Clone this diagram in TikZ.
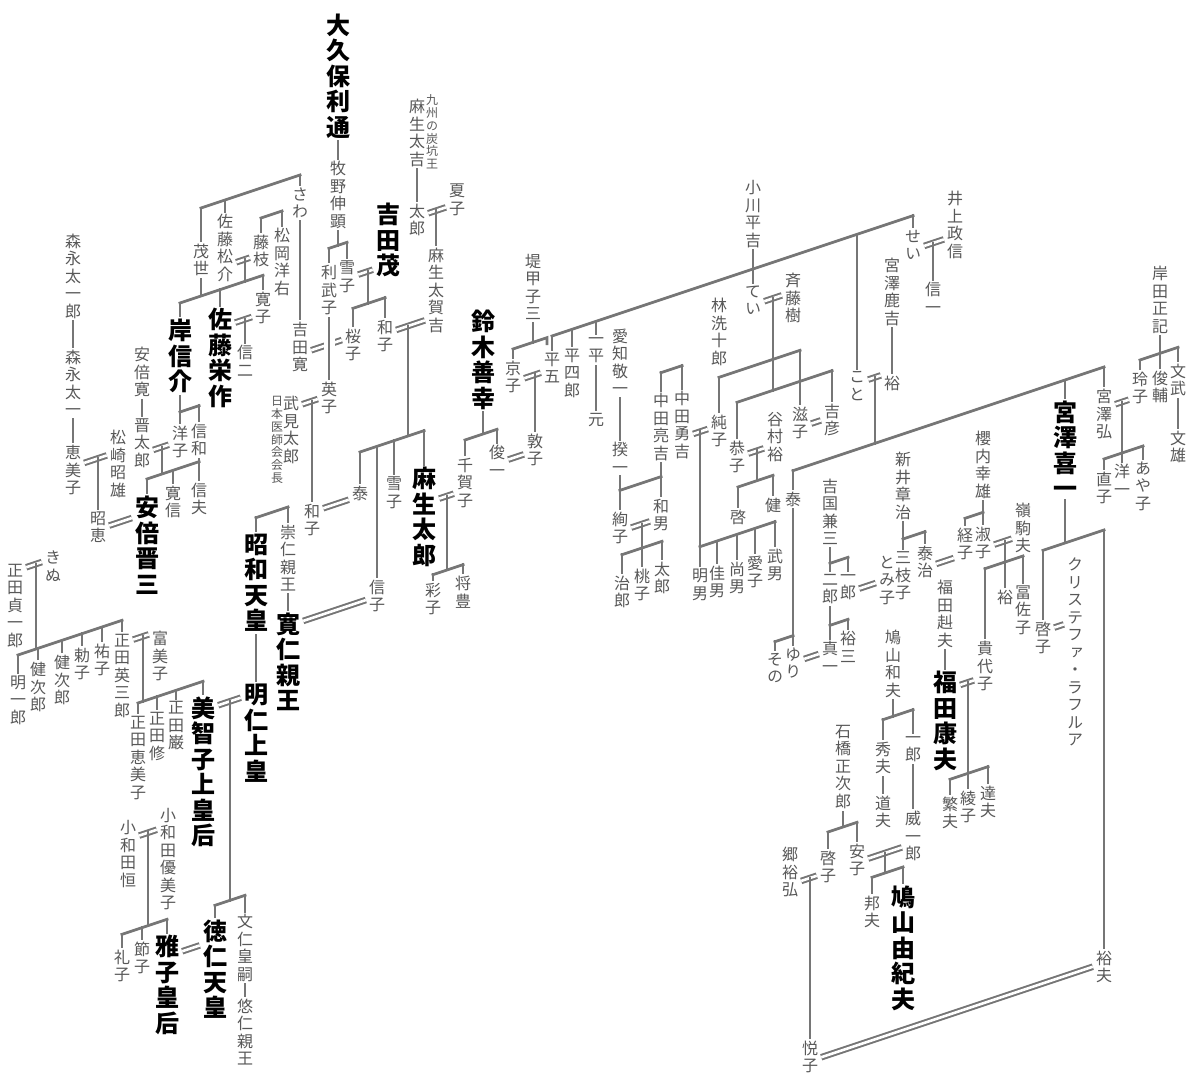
\documentclass[tikz,border=0pt]{standalone}
\usepackage{fontspec}
\setmainfont{Noto Sans CJK JP}[RawFeature=+vert]
\IfFontExistsTF{Noto Sans CJK JP Black}
  {\newfontfamily\heavy{Noto Sans CJK JP Black}[RawFeature=+vert]}
  {\IfFontExistsTF{Noto Sans CJK JP Bold}
    {\newfontfamily\heavy{Noto Sans CJK JP Bold}[RawFeature=+vert]}
    {\newfontfamily\heavy{Noto Sans CJK JP}[RawFeature=+vert,FakeBold=3]}}
\usetikzlibrary{calc}

\definecolor{ink}{RGB}{88,88,88}
\definecolor{wire}{RGB}{118,118,118}

% one character per line
\ExplSyntaxOn
\tl_new:N \l_tate_tl
\NewDocumentCommand \tate { m }
  {
    \tl_clear:N \l_tate_tl
    \tl_map_inline:nn {#1}
      {
        \tl_if_empty:NF \l_tate_tl { \tl_put_right:Nn \l_tate_tl { \\ } }
        \tl_put_right:Nn \l_tate_tl {##1}
      }
    \tl_use:N \l_tate_tl
  }
\ExplSyntaxOff

% slanted lines: image y = b - x/3
\newcommand\kup[2]{\draw[kin] let \p1=(#1) in (\p1) -- (\x1,{\x1/3-#2pt});}
\newcommand\kbar[3]{\draw[kin] let \p1=(#1), \p2=(#2) in (\x1,{\x1/3-#3pt}) -- (\x2,{\x2/3-#3pt});}
\newcommand\kwed[3]{\draw[wed] let \p1=(#1.east), \p2=(#2.west) in (\x1,{\x1/3-#3pt}) -- (\x2,{\x2/3-#3pt});}
\newcommand\kdrop[3]{\draw[kin] (#1,{#2-#1/3}) -- (#1,{#3-#1/3});}

\tikzset{
  nm/.style={text=ink, font=\fontsize{16}{17.5}\selectfont, align=center, inner xsep=3pt, inner ysep=3pt},
  big/.style={nm, text=black, font=\heavy\fontsize{24}{25.5}\selectfont},
  memo/.style={nm, font=\fontsize{12}{12.8}\selectfont, inner sep=1pt},
  kin/.style={draw=wire, line width=2.8pt, line cap=rect},
  wed/.style={draw=wire, line width=2pt, double=white, double distance=2.6pt}
}

\begin{document}
\begin{tikzpicture}[x=1pt,y=-1pt]
\fill[white] (0,0) rectangle (1200,1085);
\useasboundingbox (0,0) rectangle (1200,1085);

% Mori, Matsuzaki, Abe
\node[nm] (morinaga1) at (73,276) {\tate{森永太一郎}};
\node[nm] (morinaga2) at (73,383) {\tate{森永太一}};
\node[nm] (emiko1) at (73,470) {\tate{恵美子}};
\node[nm] (matsuzaki) at (118,464) {\tate{松崎昭雄}};
\node[nm] (akie) at (98,527) {\tate{昭恵}};
\node[nm] (abehiroshi) at (142,372) {\tate{安倍寛}};
\node[nm] (shintaro) at (142,443) {\tate{晋太郎}};
\node[nm] (yoko) at (180,442) {\tate{洋子}};
\node[nm] (nobukazu) at (199,440) {\tate{信和}};
\node[big] (shinzo) at (147,545) {\tate{安倍晋三}};
\node[nm] (hironobu) at (173,502) {\tate{寛信}};
\node[nm] (nobuo) at (199,499) {\tate{信夫}};

% Sato, Kishi
\node[nm] (shigeyo) at (201,260) {\tate{茂世}};
\node[nm] (matsusuke) at (225,248) {\tate{佐藤松介}};
\node[nm] (fujie) at (261,251) {\tate{藤枝}};
\node[nm] (matsuoka) at (282,262) {\tate{松岡洋右}};
\node[nm] (sawa) at (300,203) {\tate{さわ}};
\node[nm] (hiroko) at (263,308) {\tate{寛子}};
\node[big] (kishi) at (180,356) {\tate{岸信介}};
\node[big] (eisaku) at (220,358) {\tate{佐藤栄作}};
\node[nm] (shinji) at (245,361) {\tate{信二}};
\node[nm] (yoshidahiroshi) at (300,347) {\tate{吉田寛}};

% Okubo, Yoshida, Aso
\node[big] (okubo) at (338,76) {\tate{大久保利通}};
\node[nm] (makino) at (338,195) {\tate{牧野伸顕}};
\node[nm] (ritake) at (329,290) {\tate{利武子}};
\node[nm] (yukiko1) at (347,277) {\tate{雪子}};
\node[big] (shigeru) at (388,240) {\tate{吉田茂}};
\node[nm] (sakurako) at (353,345) {\tate{桜子}};
\node[nm] (kazuko1) at (385,336) {\tate{和子}};
\node[nm] (asotakichi) at (417,133) {\tate{麻生太吉}};
\node[memo] (kyushu) at (432,132) {\tate{九州の炭坑王}};
\node[nm] (taro1) at (417,220) {\tate{太郎}};
\node[nm] (natsuko) at (457,200) {\tate{夏子}};
\node[nm] (takakichi) at (436,290) {\tate{麻生太賀吉}};
\node[nm] (hideko) at (329,398) {\tate{英子}};
\node[nm] (takemi) at (291,430) {\tate{武見太郎}};
\node[memo] (ishikai) at (277,440) {\tate{日本医師会会長}};
\node[nm] (kazuko2) at (312,520) {\tate{和子}};
\node[nm] (yasushi1) at (360,493) {\tate{泰}};
\node[nm] (nobuko) at (377,596) {\tate{信子}};
\node[nm] (yukiko2) at (394,493) {\tate{雪子}};
\node[big] (taro) at (424,517) {\tate{麻生太郎}};
\node[big] (suzuki) at (483,360) {\tate{鈴木善幸}};
\node[nm] (chikako) at (465,483) {\tate{千賀子}};
\node[nm] (shunichi) at (497,461) {\tate{俊一}};
\node[nm] (atsuko) at (535,450) {\tate{敦子}};
\node[nm] (ayako1) at (433,599) {\tate{彩子}};
\node[nm] (masatoyo) at (463,592) {\tate{将豊}};

% imperial family, Shoda, Owada
\node[big] (showa) at (256,583) {\tate{昭和天皇}};
\node[nm] (takahito) at (288,558) {\tate{崇仁親王}};
\node[big] (tomohito) at (288,662) {\tate{寛仁親王}};
\node[big] (akihito) at (256,733) {\tate{明仁上皇}};
\node[big] (michiko) at (203,772) {\tate{美智子上皇后}};
\node[nm] (teiichiro) at (15,606) {\tate{正田貞一郎}};
\node[nm] (kinu) at (53,566) {\tate{きぬ}};
\node[nm] (meiichiro) at (18,700) {\tate{明一郎}};
\node[nm] (kenjiro1) at (38,687) {\tate{健次郎}};
\node[nm] (kenjiro2) at (62,680) {\tate{健次郎}};
\node[nm] (tokiko) at (82,664) {\tate{勅子}};
\node[nm] (yuko) at (102,660) {\tate{祐子}};
\node[nm] (eizaburo) at (122,676) {\tate{正田英三郎}};
\node[nm] (fumiko) at (160,656) {\tate{富美子}};
\node[nm] (emiko2) at (138,758) {\tate{正田恵美子}};
\node[nm] (osamu) at (157,736) {\tate{正田修}};
\node[nm] (iwao) at (176,726) {\tate{正田巌}};
\node[nm] (hisashi) at (128,854) {\tate{小和田恒}};
\node[nm] (yumiko) at (168,859) {\tate{小和田優美子}};
\node[big] (masako) at (167,985) {\tate{雅子皇后}};
\node[big] (naruhito) at (215,969) {\tate{徳仁天皇}};
\node[nm] (fumihito) at (245,948) {\tate{文仁皇嗣}};
\node[nm] (hisahito) at (245,1032) {\tate{悠仁親王}};
\node[nm] (reiko2) at (122,966) {\tate{礼子}};
\node[nm] (setsuko) at (142,958) {\tate{節子}};

% Ogawa, Tsutsumi, Aichi, Nakata, Saito
\node[nm] (tsutsumi) at (533,287) {\tate{堤甲子三}};
\node[nm] (kyoko) at (513,377) {\tate{京子}};
\node[nm] (heigo) at (552,368) {\tate{平五}};
\node[nm] (heishiro) at (572,373) {\tate{平四郎}};
\node[nm] (ippei) at (596,350) {\tate{一平}};
\node[nm] (gen) at (596,420) {\tate{元}};
\node[nm] (aichi1) at (620,362) {\tate{愛知敬一}};
\node[nm] (kiichi) at (620,458) {\tate{揆一}};
\node[nm] (ryokichi) at (661,427) {\tate{中田亮吉}};
\node[nm] (yukichi) at (682,425) {\tate{中田勇吉}};
\node[nm] (kazuo) at (661,515) {\tate{和男}};
\node[nm] (ayako2) at (620,528) {\tate{絢子}};
\node[nm] (jiro1) at (622,592) {\tate{治郎}};
\node[nm] (momoko) at (642,585) {\tate{桃子}};
\node[nm] (taro3) at (662,578) {\tate{太郎}};
\node[nm] (junko) at (719,431) {\tate{純子}};
\node[nm] (akio) at (700,585) {\tate{明男}};
\node[nm] (yoshio) at (717,582) {\tate{佳男}};
\node[nm] (hisao) at (737,578) {\tate{尚男}};
\node[nm] (aiko) at (755,572) {\tate{愛子}};
\node[nm] (takeo) at (775,565) {\tate{武男}};
\node[nm] (hayashi) at (719,332) {\tate{林洗十郎}};
\node[nm] (ogawa) at (753,214) {\tate{小川平吉}};
\node[nm] (tei) at (753,300) {\tate{てい}};
\node[nm] (saito) at (793,298) {\tate{斉藤樹}};
\node[nm] (kyoko2) at (737,457) {\tate{恭子}};
\node[nm] (tanimura) at (775,437) {\tate{谷村裕}};
\node[nm] (shigeko) at (800,423) {\tate{滋子}};
\node[nm] (yoshihiko) at (832,420) {\tate{吉彦}};
\node[nm] (kei) at (738,517) {\tate{啓}};
\node[nm] (ken) at (773,505) {\tate{健}};

% Miyazawa, Fukuda, Hatoyama
\node[nm] (koto) at (857,386) {\tate{こと}};
\node[nm] (shikakichi) at (892,292) {\tate{宮澤鹿吉}};
\node[nm] (yutaka1) at (892,383) {\tate{裕}};
\node[nm] (sei) at (913,245) {\tate{せい}};
\node[nm] (inoue) at (955,225) {\tate{井上政信}};
\node[nm] (shinichi1) at (933,298) {\tate{信一}};
\node[nm] (yasushi2) at (793,499) {\tate{泰}};
\node[nm] (sono) at (775,668) {\tate{その}};
\node[nm] (yuri) at (793,663) {\tate{ゆり}};
\node[nm] (shinichi2) at (830,657) {\tate{真一}};
\node[nm] (yoshikuni) at (830,512) {\tate{吉国兼三}};
\node[nm] (jiro2) at (830,589) {\tate{二郎}};
\node[nm] (ichiro1) at (848,587) {\tate{一郎}};
\node[nm] (yuzo) at (848,647) {\tate{裕三}};
\node[nm] (tomiko) at (887,580) {\tate{とみ子}};
\node[nm] (arai) at (903,486) {\tate{新井章治}};
\node[nm] (mieko) at (903,576) {\tate{三枝子}};
\node[nm] (taiji) at (925,562) {\tate{泰治}};
\node[nm] (tsuneko) at (965,544) {\tate{経子}};
\node[nm] (sakurauchi) at (983,465) {\tate{櫻内幸雄}};
\node[nm] (yoshiko) at (983,543) {\tate{淑子}};
\node[nm] (mine) at (1023,528) {\tate{嶺駒夫}};
\node[nm] (kiyoko) at (985,666) {\tate{貴代子}};
\node[nm] (yutaka2) at (1005,597) {\tate{裕}};
\node[nm] (fusako) at (1023,610) {\tate{冨佐子}};
\node[nm] (takeo2) at (945,614) {\tate{福田赳夫}};
\node[big] (fukuda) at (945,721) {\tate{福田康夫}};
\node[nm] (shigeo) at (950,813) {\tate{繁夫}};
\node[nm] (ryoko) at (968,807) {\tate{綾子}};
\node[nm] (tatsuo) at (988,802) {\tate{達夫}};
\node[nm] (kazuo2) at (893,664) {\tate{鳩山和夫}};
\node[nm] (hideo) at (883,758) {\tate{秀夫}};
\node[nm] (michio) at (883,812) {\tate{道夫}};
\node[nm] (ichiro2) at (913,749) {\tate{一郎}};
\node[nm] (iichiro) at (913,836) {\tate{威一郎}};
\node[nm] (yasuko) at (857,860) {\tate{安子}};
\node[nm] (kunio) at (872,912) {\tate{邦夫}};
\node[big] (yukio) at (903,948) {\tate{鳩山由紀夫}};
\node[nm] (ishibashi) at (843,767) {\tate{石橋正次郎}};
\node[nm] (keiko1) at (828,867) {\tate{啓子}};
\node[nm] (go) at (790,872) {\tate{郷裕弘}};
\node[nm] (etsuko) at (810,1057) {\tate{悦子}};
\node[nm] (hiroo) at (1104,967) {\tate{裕夫}};
\node[big] (kiichi2) at (1065,449) {\tate{宮澤喜一}};
\node[nm] (hiroshi) at (1104,414) {\tate{宮澤弘}};
\node[nm] (keiko2) at (1043,638) {\tate{啓子}};
\node[nm] (christopher) at (1075,652) {\tate{クリステファ・ラフルア}};
\node[nm] (reiko) at (1140,388) {\tate{玲子}};
\node[nm] (shunsuke) at (1160,387) {\tate{俊輔}};
\node[nm] (fumitake) at (1178,380) {\tate{文武}};
\node[nm] (fumio) at (1178,447) {\tate{文雄}};
\node[nm] (kishida) at (1160,300) {\tate{岸田正記}};
\node[nm] (naoko) at (1104,488) {\tate{直子}};
\node[nm] (yoichi) at (1122,480) {\tate{洋一}};
\node[nm] (ayako3) at (1143,486) {\tate{あや子}};

% straight descents
\draw[kin] (morinaga1.south) -- (morinaga2.north);
\draw[kin] (morinaga2.south) -- (emiko1.north);
\draw[kin] (abehiroshi.south) -- (shintaro.north);
\draw[kin] (kishi.south) -- (yoko.north);
\draw[kin] (nobukazu.south) -- (nobuo.north);
\draw[kin] (sawa.south) -- (yoshidahiroshi.north);
\draw[kin] (okubo.south) -- (makino.north);
\draw[kin] (asotakichi.south) -- (taro1.north);
\draw[kin] (takahito.south) -- (tomohito.north);
\draw[kin] (showa.south) -- (akihito.north);
\draw[kin] (fumihito.south) -- (hisahito.north);
\draw[kin] (ippei.south) -- (gen.north);
\draw[kin] (aichi1.south) -- (kiichi.north);
\draw[kin] (kiichi.south) -- (ayako2.north);
\draw[kin] (ryokichi.south) -- (kazuo.north);
\draw[kin] (ogawa.south) -- (tei.north);
\draw[kin] (shikakichi.south) -- (yutaka1.north);
\draw[kin] (yasushi2.south) -- (yuri.north);
\draw[kin] (yoshikuni.south) -- (jiro2.north);
\draw[kin] (jiro2.south) -- (shinichi2.north);
\draw[kin] (arai.south) -- (mieko.north);
\draw[kin] (sakurauchi.south) -- (yoshiko.north);
\draw[kin] (takeo2.south) -- (fukuda.north);
\draw[kin] (hideo.south) -- (michio.north);
\draw[kin] (ichiro2.south) -- (iichiro.north);
\draw[kin] (kishida.south) -- (shunsuke.north);
\draw[kin] (fumitake.south) -- (fumio.north);

% Sato, Kishi, Abe
\kbar{shigeyo.north}{sawa.north}{275}
\kup{shigeyo.north}{275}
\kup{matsusuke.north}{275}
\kup{sawa.north}{275}
\kbar{fujie.north}{matsuoka.north}{305}
\kup{fujie.north}{305}
\kup{matsuoka.north}{305}
\kwed{matsusuke}{fujie}{341}
\kdrop{245}{341}{363}
\kbar{kishi.north}{hiroko.north}{363}
\kup{kishi.north}{363}
\kup{eisaku.north}{363}
\kup{hiroko.north}{363}
\kup{shigeyo.south}{363}
\kwed{eisaku}{hiroko}{401}
\kup{shinji.north}{401}
\kbar{yoko.north}{nobukazu.north}{472}
\kup{nobukazu.north}{472}
\kwed{shintaro}{yoko}{501}
\kdrop{162}{501}{528}
\kbar{shinzo.north}{nobuo.north}{528}
\kup{shinzo.north}{528}
\kup{hironobu.north}{528}
\kup{nobuo.north}{528}
\kwed{emiko1}{matsuzaki}{491}
\kup{akie.north}{491}
\kwed{akie}{shinzo}{562}

% Okubo, Yoshida, Aso
\kbar{ritake.north}{yukiko1.north}{358}
\kup{ritake.north}{358}
\kup{yukiko1.north}{358}
\kup{makino.south}{358}
\kwed{yukiko1}{shigeru}{394}
\kdrop{368}{394}{426}
\kbar{sakurako.north}{kazuko1.north}{426}
\kup{sakurako.north}{426}
\kup{kazuko1.north}{426}
\kwed{yoshidahiroshi}{sakurako}{454}
\draw[kin, preaction={draw=white, line width=11pt, line cap=butt}] (ritake.south) -- (hideko.north);
\kwed{taro1}{natsuko}{356}
\kup{takakichi.north}{356}
\kwed{kazuko1}{takakichi}{462}
\kdrop{408}{462}{572}
\kbar{yasushi1.north}{taro.north}{572}
\kup{yasushi1.north}{572}
\kup{nobuko.north}{572}
\kup{yukiko2.north}{572}
\kup{taro.north}{572}
\kwed{takemi}{hideko}{505}
\kup{kazuko2.north}{505}
\kwed{kazuko2}{yasushi1}{616}
\kup{suzuki.south}{595}
\kbar{chikako.north}{shunichi.north}{595}
\kup{chikako.north}{595}
\kup{shunichi.north}{595}
\kwed{shunichi}{atsuko}{629}
\kwed{taro}{chikako}{645}
\kdrop{447}{645}{719}
\kbar{ayako1.north}{masatoyo.north}{719}
\kup{ayako1.north}{719}
\kup{masatoyo.north}{719}

% imperial family, Shoda, Owada
\kbar{showa.north}{takahito.north}{603}
\kup{showa.north}{603}
\kup{takahito.north}{603}
\kwed{tomohito}{nobuko}{722}
\kwed{michiko}{akihito}{778}
\kdrop{230}{778}{977}
\kbar{naruhito.north}{fumihito.north}{977}
\kup{naruhito.north}{977}
\kup{fumihito.north}{977}
\kwed{masako}{naruhito}{1012}
\kwed{hisashi}{yumiko}{882}
\kdrop{148}{882}{975}
\kbar{reiko2.north}{masako.north}{975}
\kup{reiko2.north}{975}
\kup{setsuko.north}{975}
\kup{masako.north}{975}
\kwed{teiichiro}{kinu}{576}
\kdrop{36}{576}{661}
\kbar{meiichiro.north}{eizaburo.north}{661}
\foreach \k in {meiichiro,kenjiro1,kenjiro2,tokiko,yuko,eizaburo}
  {\kup{\k.north}{661}}
\kwed{eizaburo}{fumiko}{684}
\kdrop{143}{684}{749}
\kbar{emiko2.north}{michiko.north}{749}
\foreach \k in {emiko2,osamu,iwao,michiko}
  {\kup{\k.north}{749}}

% Ogawa, Tsutsumi, Aichi, Nakata, Saito
\coordinate (tsutsumiend) at (547,{520-547/3});
\draw[kin] let \p1=(kyoko.north) in (\x1,{\x1/3-520pt}) -- (tsutsumiend) -- ++(0,6);
\kup{kyoko.north}{520}
\kup{tsutsumi.south}{520}
\kwed{kyoko}{heigo}{553}
\kup{atsuko.north}{553}
\kbar{heigo.north}{sei.north}{520}
\foreach \k in {heigo,heishiro,ippei,koto,sei}
  {\kup{\k.north}{520}}
\kbar{ryokichi.north}{yukichi.north}{593}
\kup{ryokichi.north}{593}
\kup{yukichi.north}{593}
\kbar{kiichi.south}{kazuo.north}{697}
\kwed{ayako2}{kazuo}{738}
\kup{momoko.north}{738}
\kbar{jiro1.north}{taro3.north}{762}
\kup{jiro1.north}{762}
\kup{taro3.north}{762}
\kwed{yukichi}{junko}{665}
\kup{akio.north}{665}
\kbar{akio.north}{takeo.north}{780}
\foreach \k in {yoshio,hisao,aiko,takeo}
  {\kup{\k.north}{780}}
\kwed{tei}{saito}{556}
\kdrop{773}{556}{648}
\kbar{junko.north}{shigeko.north}{617}
\kup{junko.north}{617}
\kup{shigeko.north}{617}
\kbar{kyoko2.north}{yoshihiko.north}{648}
\kup{kyoko2.north}{648}
\kup{yoshihiko.north}{648}
\kwed{kyoko2}{tanimura}{703}
\kdrop{757}{703}{733}
\kbar{kei.north}{ken.north}{733}
\kup{kei.north}{733}
\kup{ken.north}{733}
\kwed{shigeko}{yoshihiko}{694}

% Miyazawa, Fukuda, Hatoyama
\kwed{sei}{inoue}{554}
\kup{shinichi1.north}{554}
\kwed{koto}{yutaka1}{669}
\kdrop{875}{669}{735}
\kbar{yasushi2.north}{hiroshi.north}{735}
\kup{yasushi2.north}{735}
\kup{kiichi2.north}{735}
\kup{hiroshi.north}{735}
\kbar{sono.north}{yuri.north}{900}
\kup{sono.north}{900}
\kwed{yuri}{shinichi2}{927}
\kbar{jiro2.north}{ichiro1.north}{840}
\kup{ichiro1.north}{840}
\kbar{jiro2.south}{yuzo.north}{902}
\kup{yuzo.north}{902}
\kwed{ichiro1}{tomiko}{875}
\kbar{arai.south}{taiji.north}{840}
\kup{taiji.north}{840}
\kwed{taiji}{tsuneko}{876}
\kbar{tsuneko.north}{yoshiko.north}{840}
\kup{tsuneko.north}{840}
\kwed{yoshiko}{mine}{876}
\kup{yutaka2.north}{876}
\kbar{kiyoko.north}{fusako.north}{897}
\kup{kiyoko.north}{897}
\kup{fusako.north}{897}
\kwed{fukuda}{kiyoko}{1005}
\kup{ryoko.north}{1005}
\kbar{shigeo.north}{tatsuo.north}{1096}
\kup{shigeo.north}{1096}
\kup{tatsuo.north}{1096}
\kbar{hideo.north}{ichiro2.north}{1014}
\kup{hideo.north}{1014}
\kup{ichiro2.north}{1014}
\kup{kazuo2.south}{1014}
\kwed{yasuko}{iichiro}{1148}
\kdrop{885}{1148}{1168}
\kbar{kunio.north}{yukio.north}{1168}
\kup{kunio.north}{1168}
\kup{yukio.north}{1168}
\kbar{keiko1.north}{yasuko.north}{1108}
\kup{keiko1.north}{1108}
\kup{yasuko.north}{1108}
\kup{ishibashi.south}{1108}
\kwed{go}{keiko1}{1148}
\kup{etsuko.north}{1148}
\kwed{etsuko}{hiroo}{1331}
\kbar{keiko2.north}{hiroo.north}{898}
\kup{keiko2.north}{898}
\kup{kiichi2.south}{898}
\kup{hiroo.north}{898}
\kwed{keiko2}{christopher}{979}
\kwed{hiroshi}{reiko}{776}
\kup{yoichi.north}{776}
\kbar{naoko.north}{ayako3.north}{827}
\kup{naoko.north}{827}
\kup{ayako3.north}{827}
\kbar{reiko.north}{fumitake.north}{740}
\kup{reiko.north}{740}
\kup{fumitake.north}{740}
\end{tikzpicture}
\end{document}
